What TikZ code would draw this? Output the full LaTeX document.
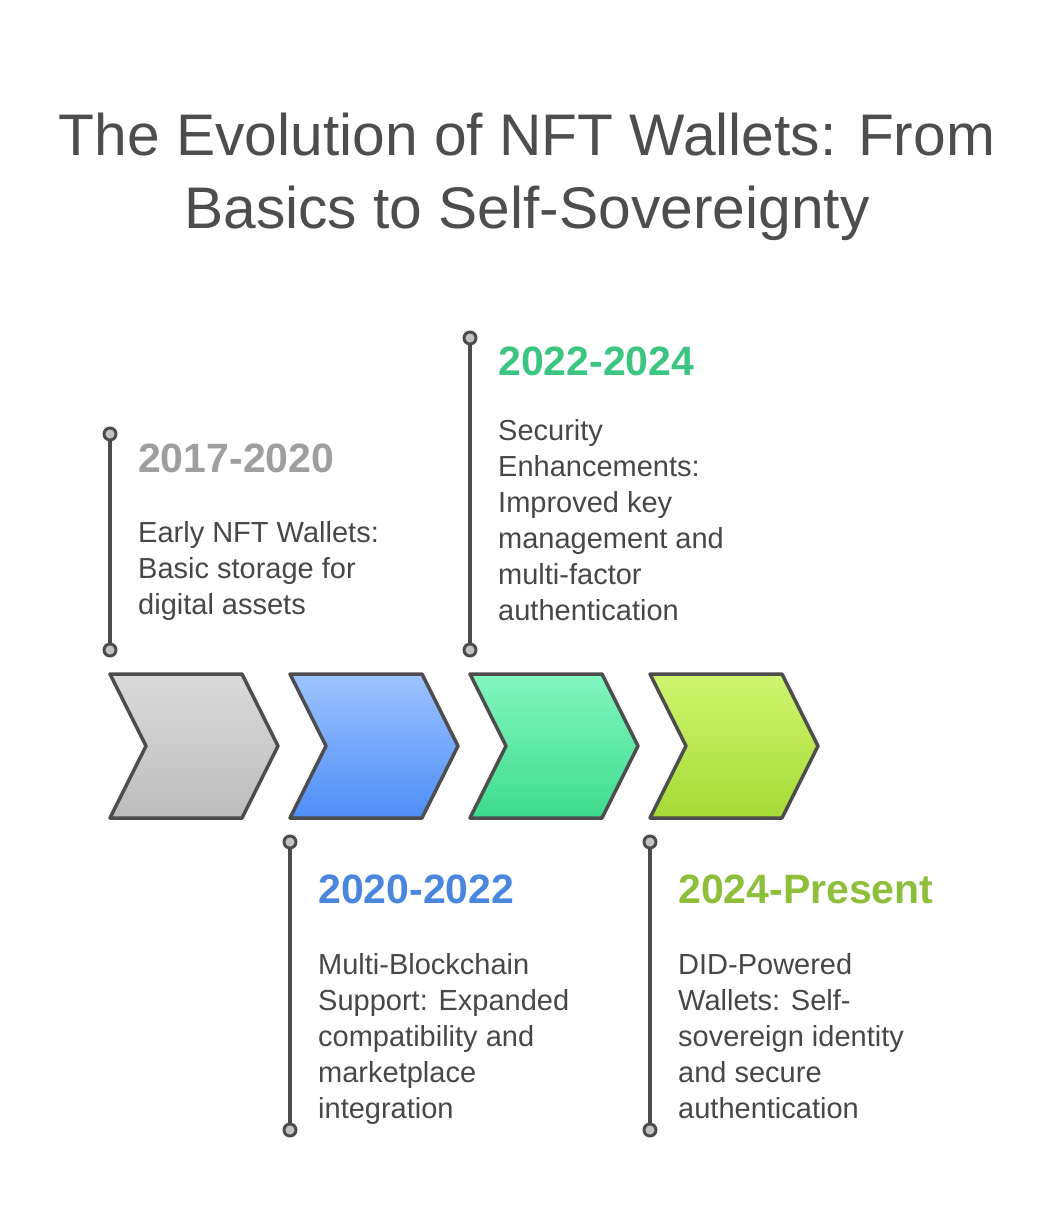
\documentclass[tikz,border=0pt]{standalone}
\usepackage{fontspec}
\setmainfont{Liberation Sans}
\begin{document}
\begin{tikzpicture}[x=1pt,y=-1pt]
\definecolor{ink}{HTML}{4D4D4D}
\definecolor{texta}{HTML}{474747}
\definecolor{pinfill}{HTML}{C4C4C4}
\definecolor{color1a}{HTML}{DADADA}
\definecolor{color1b}{HTML}{BCBCBC}
\definecolor{color2a}{HTML}{9DC3FF}
\definecolor{color2b}{HTML}{4E8EF7}
\definecolor{color3a}{HTML}{82F6BF}
\definecolor{color3b}{HTML}{3DDB8E}
\definecolor{color4a}{HTML}{CFF56F}
\definecolor{color4b}{HTML}{A6DA36}
\definecolor{year1}{HTML}{9E9E9E}
\definecolor{year2}{HTML}{4A86DE}
\definecolor{year3}{HTML}{3CC581}
\definecolor{year4}{HTML}{8DBF3A}
\useasboundingbox[fill=white] (0,0) rectangle (1060,1228);
% chevron corners
\coordinate[] (A1) at (110,674);
\coordinate[] (A2) at (242,674);
\coordinate[] (A3) at (278,746);
\coordinate[] (A4) at (242,818);
\coordinate[] (A5) at (110,818);
\coordinate[] (A6) at (146,746);
\coordinate[] (B1) at (290,674);
\coordinate[] (B2) at (422,674);
\coordinate[] (B3) at (458,746);
\coordinate[] (B4) at (422,818);
\coordinate[] (B5) at (290,818);
\coordinate[] (B6) at (326,746);
\coordinate[] (C1) at (470,674);
\coordinate[] (C2) at (602,674);
\coordinate[] (C3) at (638,746);
\coordinate[] (C4) at (602,818);
\coordinate[] (C5) at (470,818);
\coordinate[] (C6) at (506,746);
\coordinate[] (D1) at (650,674);
\coordinate[] (D2) at (782,674);
\coordinate[] (D3) at (818,746);
\coordinate[] (D4) at (782,818);
\coordinate[] (D5) at (650,818);
\coordinate[] (D6) at (686,746);
% pin ends
\coordinate[] (P1) at (110,434);
\coordinate[] (P2) at (110,650);
\coordinate[] (Q1) at (290,842);
\coordinate[] (Q2) at (290,1130);
\coordinate[] (R1) at (470,338);
\coordinate[] (R2) at (470,650);
\coordinate[] (S1) at (650,842);
\coordinate[] (S2) at (650,1130);
\draw[line width=3.5pt,draw=ink,line join=round,top color=color1a,bottom color=color1b] (A1)--(A2)--(A3)--(A4)--(A5)--(A6)--cycle;
\draw[line width=3.5pt,draw=ink,line join=round,top color=color2a,bottom color=color2b] (B1)--(B2)--(B3)--(B4)--(B5)--(B6)--cycle;
\draw[line width=3.5pt,draw=ink,line join=round,top color=color3a,bottom color=color3b] (C1)--(C2)--(C3)--(C4)--(C5)--(C6)--cycle;
\draw[line width=3.5pt,draw=ink,line join=round,top color=color4a,bottom color=color4b] (D1)--(D2)--(D3)--(D4)--(D5)--(D6)--cycle;
\draw[line width=3.5pt,draw=ink] (P1)--(P2);
\draw[line width=3.5pt,draw=ink] (Q1)--(Q2);
\draw[line width=3.5pt,draw=ink] (R1)--(R2);
\draw[line width=3.5pt,draw=ink] (S1)--(S2);
\foreach \p in {P1,P2,Q1,Q2,R1,R2,S1,S2}
  \draw[line width=3pt,draw=ink,fill=pinfill] (\p) circle (6);
% title
\node[text=ink,font=\fontsize{58.7}{73}\selectfont,align=center] (title) at (527,177) {The Evolution of NFT Wallets: From\\Basics to Self-Sovereignty};
% labels (base = last line)
\node[anchor=base west,inner sep=0,text=year1,font=\fontsize{41}{44}\selectfont\bfseries] (Y1) at (138,472) {2017-2020};
\node[anchor=base west,inner sep=0,text=texta,font=\fontsize{29}{36}\selectfont,align=left] (T1) at (138,614) {Early NFT Wallets:\\Basic storage for\\digital assets};
\node[anchor=base west,inner sep=0,text=year2,font=\fontsize{41}{44}\selectfont\bfseries] (Y2) at (318,903) {2020-2022};
\node[anchor=base west,inner sep=0,text=texta,font=\fontsize{29}{36}\selectfont,align=left] (T2) at (318,1118) {Multi-Blockchain\\Support: Expanded\\compatibility and\\marketplace\\integration};
\node[anchor=base west,inner sep=0,text=year3,font=\fontsize{41}{44}\selectfont\bfseries] (Y3) at (498,375) {2022-2024};
\node[anchor=base west,inner sep=0,text=texta,font=\fontsize{29}{36}\selectfont,align=left] (T3) at (498,620) {Security\\Enhancements:\\Improved key\\management and\\multi-factor\\authentication};
\node[anchor=base west,inner sep=0,text=year4,font=\fontsize{41}{44}\selectfont\bfseries] (Y4) at (678,903) {2024-Present};
\node[anchor=base west,inner sep=0,text=texta,font=\fontsize{29}{36}\selectfont,align=left] (T4) at (678,1118) {DID-Powered\\Wallets: Self-\\sovereign identity\\and secure\\authentication};
\end{tikzpicture}
\end{document}
